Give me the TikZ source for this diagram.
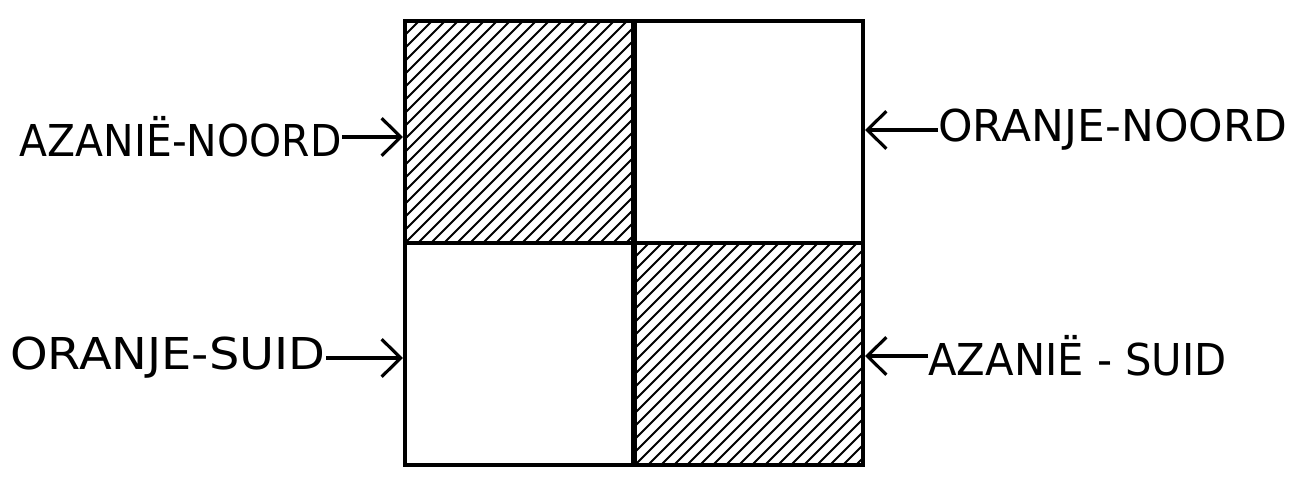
\documentclass[tikz,border=0pt]{standalone}
\usepackage{fontspec}
\setmainfont{DejaVu Sans}
\usepackage{tikz}
\usetikzlibrary{positioning,arrows.meta}

\begin{document}
\begin{tikzpicture}[
    x=0.02cm, y=-0.02cm,
    >={Straight Barb[length=3.8mm,width=7.5mm,line width=1.8pt]},
    font=\fontsize{25}{30}\selectfont,
    cell/.style={draw, line width=2.4pt, minimum width=4.56cm, minimum height=4.44cm, inner sep=0pt},
    hatch/.style={cell, path picture={
        \foreach \i in {-19,...,19}
          \draw[line width=1.1pt] ([xshift=\i*0.26cm]path picture bounding box.south west) -- ++(5cm,5cm);}},
    lbl/.style={inner sep=0pt},
    pijl/.style={->, line width=1.8pt},
  ]
    \useasboundingbox (0,0) rectangle (1304,493);

    \node[hatch] (nw) at (519,132) {};
    \node[cell]  (ne) at (749,132) {};
    \node[cell]  (sw) at (519,354) {};
    \node[hatch] (se) at (749,354) {};

    \node[lbl, anchor=east] (an) at (342,137) {\scalebox{0.93}[1]{AZANIË-NOORD}};
    \node[lbl, anchor=west] (on) at (938,130) {ORANJE-NOORD};
    \node[lbl, anchor=east] (os) at (326,358) {\scalebox{1.09}[1]{ORANJE-SUID}};
    \node[lbl, anchor=west] (as) at (928,356) {\scalebox{0.95}[1]{AZANIË - SUID}};

    \draw[pijl] (an.east) -- (an.east -| nw.west);
    \draw[pijl] (os.east) -- (os.east -| sw.west);
    \draw[pijl] (on.west) -- (on.west -| ne.east);
    \draw[pijl] (as.west) -- (as.west -| se.east);
  \end{tikzpicture}
\end{document}
